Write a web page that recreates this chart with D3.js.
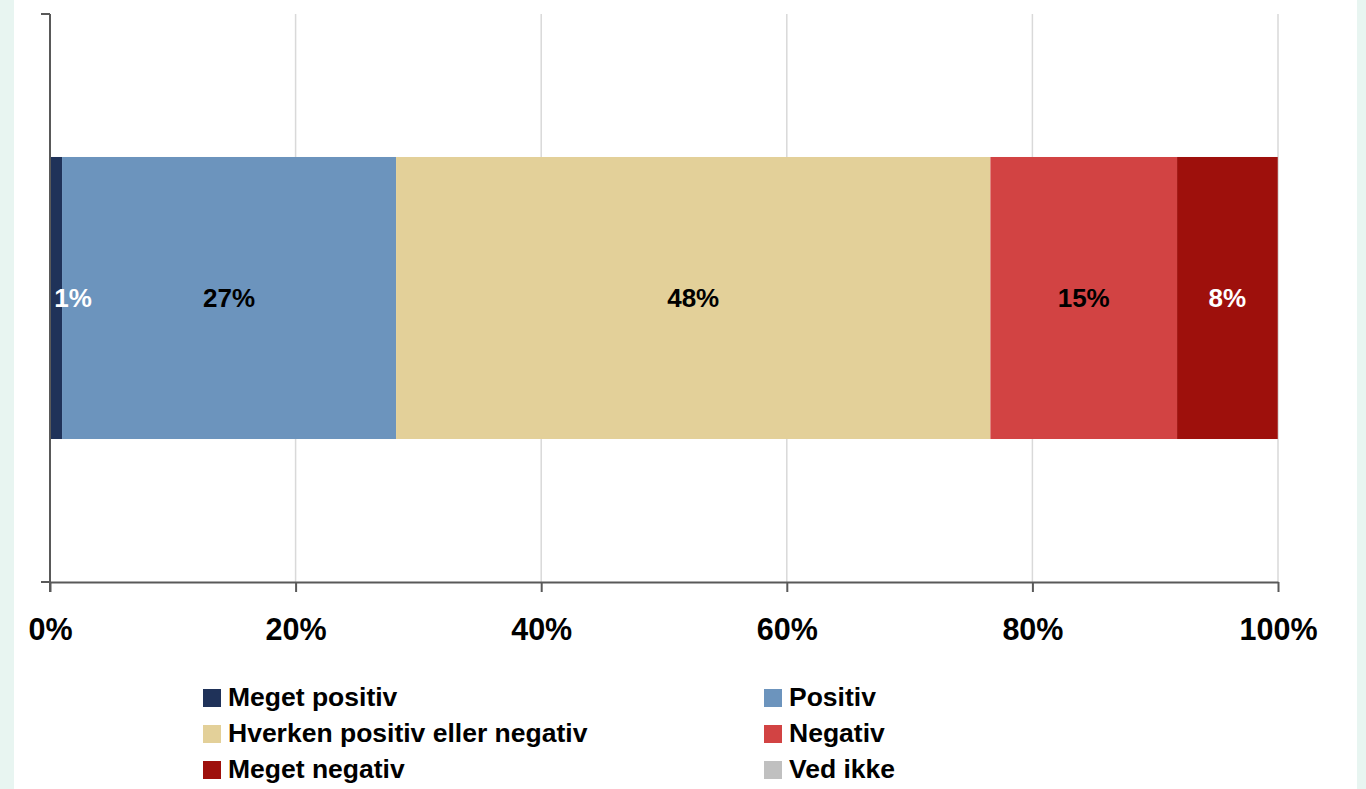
<!DOCTYPE html>
<html>
<head>
<meta charset="utf-8">
<script src="https://cdn.jsdelivr.net/npm/d3@7"></script>
<style>
  html, body { margin: 0; padding: 0; background: #e8f5f1; }
  svg { display: block; }
  text { font-family: "Liberation Sans", Arial, sans-serif; font-weight: bold; }
</style>
</head>
<body>
<svg id="chart" width="1366" height="789"></svg>
<script>
// Survey answer shares (percent) for one stacked bar
const categories = ["Meget positiv", "Positiv", "Hverken positiv eller negativ", "Negativ", "Meget negativ", "Ved ikke"];
const values = [0.98, 27.2, 48.4, 15.2, 8.2, 0];
const colors = ["#1f3259", "#6c94bd", "#e3d099", "#d24343", "#9e100c", "#c0c0c0"];
const labelColors = ["#ffffff", "#000000", "#000000", "#000000", "#ffffff", "#000000"];
const tickValues = [0, 20, 40, 60, 80, 100];
const rowNames = [""];

const svg = d3.select("#chart");

// white plot card over the pale green page
svg.append("rect").attr("x", 14).attr("y", 0).attr("width", 1343).attr("height", 789).attr("fill", "#ffffff");

const x = d3.scaleLinear().domain([0, 100]).range([50, 1278]);
const y = d3.scaleBand().domain(rowNames).range([14, 582]).paddingInner(0).paddingOuter(0.507);

// vertical gridlines
svg.append("g")
  .selectAll("line")
  .data(tickValues.filter(d => d > 0))
  .join("line")
  .attr("x1", d => x(d)).attr("x2", d => x(d))
  .attr("y1", 14).attr("y2", 582)
  .attr("stroke", "#d9d9d9").attr("stroke-width", 1.5);

// stacked segments
let acc = 0;
const segs = values.map((v, i) => {
  const s = { name: categories[i], v, x0: acc, x1: acc + v, color: colors[i], lc: labelColors[i] };
  acc += v;
  return s;
});

const row = svg.append("g");
row.selectAll("rect")
  .data(segs.filter(d => d.v > 0))
  .join("rect")
  .attr("x", d => x(d.x0))
  .attr("y", y(""))
  .attr("width", d => x(d.x1) - x(d.x0))
  .attr("height", y.bandwidth())
  .attr("fill", d => d.color);

// value labels
const labelY = y("") + y.bandwidth() / 2 + 9;
row.selectAll("text")
  .data(segs.filter(d => d.v > 0))
  .join("text")
  .attr("x", d => {
    const w = x(d.x1) - x(d.x0);
    return w < 30 ? x(d.x0) + 23 : (x(d.x0) + x(d.x1)) / 2;
  })
  .attr("y", labelY)
  .attr("text-anchor", "middle")
  .attr("font-size", 26)
  .attr("fill", d => d.lc)
  .text(d => Math.round(d.v) + "%");

// x axis
const xAxis = svg.append("g")
  .attr("transform", "translate(0,582)")
  .call(d3.axisBottom(x).tickValues(tickValues).tickSize(10).tickSizeOuter(0).tickFormat(d => d + "%"));
xAxis.select(".domain").attr("stroke", "#595959").attr("stroke-width", 2);
xAxis.selectAll(".tick line").attr("stroke", "#595959").attr("stroke-width", 2);
xAxis.selectAll(".tick text")
  .attr("font-size", 30.5).attr("font-family", "Liberation Sans, Arial, sans-serif")
  .attr("font-weight", "bold").attr("fill", "#000").attr("dy", 0).attr("y", 58);

// y axis: category boundary ticks
const [yTop, yBot] = y.range();
const yAxis = svg.append("g");
yAxis.append("line").attr("x1", 50).attr("x2", 50).attr("y1", yTop).attr("y2", yBot + 10)
  .attr("stroke", "#595959").attr("stroke-width", 2);
yAxis.selectAll("line.tk")
  .data([yTop, yBot])
  .join("line").attr("class", "tk")
  .attr("x1", 41).attr("x2", 50).attr("y1", d => d).attr("y2", d => d)
  .attr("stroke", "#595959").attr("stroke-width", 2);

// legend: two columns, three rows
const legend = svg.append("g");
const colX = [203, 764];
const rowY = [706, 742, 778];
categories.forEach((c, i) => {
  const gx = colX[i % 2], gy = rowY[Math.floor(i / 2)];
  legend.append("rect").attr("x", gx).attr("y", gy - 17).attr("width", 18).attr("height", 18).attr("fill", colors[i]);
  legend.append("text").attr("x", gx + 25).attr("y", gy).attr("font-size", 26.5).attr("fill", "#000").text(c);
});
</script>
</body>
</html>
